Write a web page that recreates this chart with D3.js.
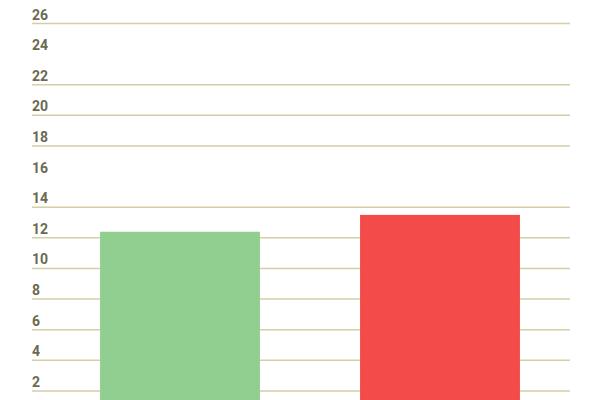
<!DOCTYPE html>
<html>
<head>
<meta charset="utf-8">
<script src="https://cdn.jsdelivr.net/npm/d3@7"></script>
<style>
  body { margin: 0; background: #fff; }
  .tick-label { font-family: Roboto, sans-serif; font-weight: bold; font-size: 14px; fill: #6b6a4f; }
</style>
</head>
<body>
<svg id="chart" width="600" height="400"></svg>
<script>
const categories = ['A', 'B'];
const values = [12.4, 13.5];
const colors = ['#90cf8f', '#f34b4a'];
const yTicks = [2, 4, 6, 8, 10, 12, 14, 16, 18, 20, 22, 24, 26];
// the reference shows no rule under 16 and 24
const gridTicks = [2, 4, 6, 8, 10, 12, 14, 18, 20, 22, 26];

const svg = d3.select('#chart');

const xScale = d3.scaleBand()
    .domain(categories)
    .range([50, 570])
    .paddingInner(0.385)
    .paddingOuter(0.1925);

const yScale = d3.scaleLinear()
    .domain([0, 26])
    .range([421.6, 23.5]);

// gridlines
svg.append('g')
    .selectAll('line')
    .data(gridTicks)
    .enter()
    .append('line')
    .attr('x1', 32)
    .attr('x2', 570)
    .attr('y1', d => yScale(d))
    .attr('y2', d => yScale(d))
    .attr('stroke', '#d5cea8')
    .attr('stroke-width', 1.5);

// tick labels sit above their line
svg.append('g')
    .selectAll('text')
    .data(yTicks)
    .enter()
    .append('text')
    .attr('class', 'tick-label')
    .attr('x', 32)
    .attr('y', d => yScale(d) - 4)
    .text(d => d);

// bars
svg.append('g')
    .selectAll('rect')
    .data(values)
    .enter()
    .append('rect')
    .attr('x', (d, i) => xScale(categories[i]))
    .attr('width', xScale.bandwidth())
    .attr('y', d => yScale(d))
    .attr('height', d => yScale(0) - yScale(d))
    .attr('fill', (d, i) => colors[i]);
</script>
</body>
</html>
